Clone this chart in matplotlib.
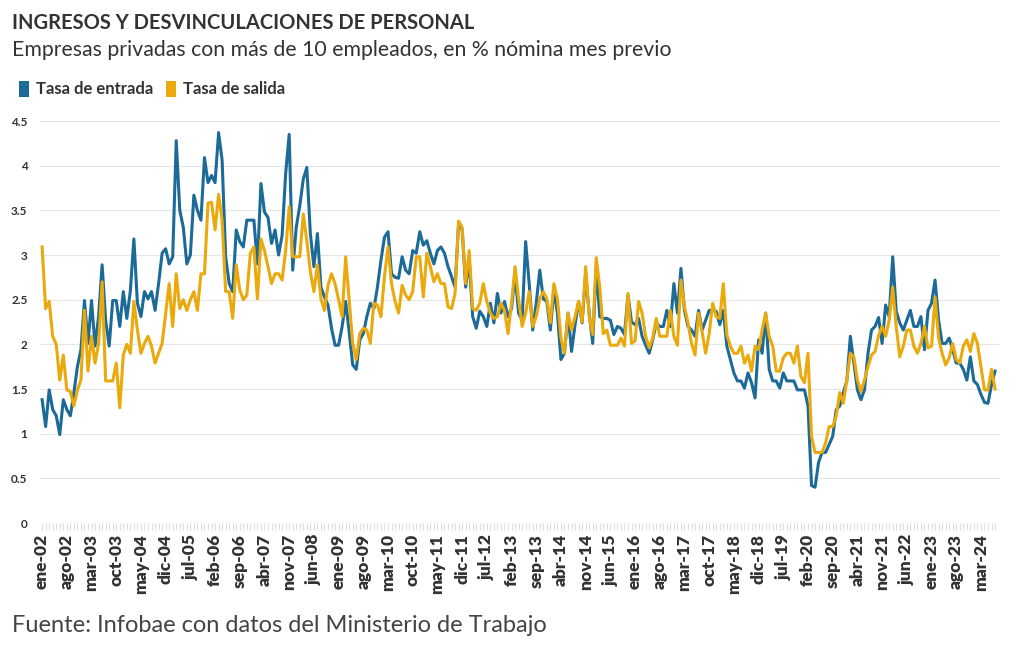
import numpy as np
import matplotlib.pyplot as plt
from matplotlib.patches import Patch

# monthly series from ene-02 onward, % of previous month payroll
entrada = [
    1.38, 1.08, 1.49, 1.27, 1.20, 0.99, 1.38, 1.27, 1.20, 1.46, 1.75, 1.94,
    2.49, 2.01, 2.49, 1.98, 2.31, 2.89, 2.27, 1.98, 2.49, 2.49, 2.20, 2.59,
    2.29, 2.60, 3.18, 2.46, 2.31, 2.59, 2.51, 2.59, 2.38, 2.68, 3.02, 3.07,
    2.90, 2.98, 4.28, 3.50, 3.31, 2.90, 3.00, 3.67, 3.50, 3.39, 4.09, 3.81,
    3.89, 3.81, 4.37, 4.06, 2.98, 2.68, 2.59, 3.28, 3.15, 3.09, 3.39, 3.39,
    3.39, 2.90, 3.80, 3.48, 3.42, 3.13, 3.28, 3.00, 3.22, 3.91, 4.35, 2.83,
    3.31, 3.55, 3.85, 3.98, 3.24, 2.87, 3.24, 2.64, 2.53, 2.44, 2.18, 1.99,
    1.99, 2.20, 2.48, 2.14, 1.77, 1.72, 2.05, 2.12, 2.31, 2.46, 2.40, 2.64,
    2.94, 3.20, 3.26, 2.79, 2.75, 2.74, 2.98, 2.83, 2.79, 3.05, 3.02, 3.26,
    3.11, 3.16, 3.02, 2.90, 3.05, 3.09, 3.02, 2.87, 2.76, 2.64, 3.35, 3.29,
    2.64, 2.94, 2.31, 2.18, 2.37, 2.31, 2.20, 2.46, 2.24, 2.57, 2.35, 2.48,
    2.31, 2.40, 2.79, 2.35, 2.27, 3.15, 2.68, 2.16, 2.46, 2.83, 2.51, 2.48,
    2.16, 2.61, 2.35, 1.83, 1.90, 2.35, 1.92, 2.22, 2.48, 2.24, 2.79, 2.35,
    2.01, 2.87, 2.31, 2.29, 2.29, 2.27, 2.11, 2.20, 2.18, 2.11, 2.55, 2.25,
    2.22, 2.29, 2.09, 1.99, 1.90, 2.05, 2.24, 2.20, 2.20, 2.38, 2.20, 2.68,
    2.35, 2.85, 2.38, 2.20, 2.16, 2.09, 2.38, 2.16, 2.27, 2.38, 2.38, 2.37,
    2.22, 2.38, 1.98, 1.83, 1.68, 1.59, 1.59, 1.51, 1.68, 1.57, 1.40, 2.05,
    1.90, 2.35, 1.72, 1.59, 1.59, 1.51, 1.68, 1.59, 1.59, 1.59, 1.49, 1.49,
    1.49, 1.31, 0.42, 0.40, 0.68, 0.79, 0.79, 0.88, 0.97, 1.27, 1.31, 1.46,
    1.59, 2.09, 1.79, 1.49, 1.38, 1.49, 1.90, 2.16, 2.20, 2.30, 2.01, 2.44,
    2.31, 2.98, 2.37, 2.24, 2.16, 2.27, 2.38, 2.20, 2.20, 2.31, 1.94, 2.38,
    2.46, 2.72, 2.27, 2.01, 2.01, 2.07, 1.94, 1.79, 1.79, 1.72, 1.60, 1.86,
    1.59, 1.55, 1.44, 1.35, 1.34, 1.55, 1.70,
]
salida = [
    3.09, 2.40, 2.48, 2.09, 2.00, 1.60, 1.88, 1.49, 1.47, 1.31, 1.49, 1.60,
    2.38, 1.70, 2.09, 1.79, 2.01, 2.70, 1.59, 1.59, 1.59, 1.79, 1.29, 1.88,
    2.00, 1.90, 2.48, 2.16, 1.90, 2.01, 2.09, 1.98, 1.79, 1.90, 2.01, 2.35,
    2.68, 2.20, 2.79, 2.40, 2.50, 2.38, 2.50, 2.59, 2.38, 2.79, 2.79, 3.58,
    3.59, 3.28, 3.68, 3.39, 2.59, 2.59, 2.29, 2.89, 2.61, 2.50, 2.55, 3.02,
    3.09, 2.51, 3.18, 3.05, 2.87, 2.68, 2.79, 2.79, 2.72, 3.05, 3.54, 2.98,
    2.98, 2.98, 3.46, 3.16, 2.81, 2.59, 2.89, 2.51, 2.38, 2.66, 2.79, 2.68,
    2.50, 2.31, 2.98, 2.50, 2.01, 1.83, 2.12, 2.18, 2.16, 2.01, 2.46, 2.44,
    2.31, 2.76, 3.09, 2.68, 2.48, 2.35, 2.66, 2.55, 2.50, 2.59, 2.98, 2.98,
    2.53, 3.02, 2.87, 2.70, 2.79, 2.68, 2.68, 2.42, 2.40, 2.57, 3.38, 3.31,
    2.68, 3.05, 2.40, 2.38, 2.46, 2.68, 2.48, 2.35, 2.29, 2.31, 2.46, 2.38,
    2.12, 2.46, 2.87, 2.51, 2.20, 2.35, 2.59, 2.20, 2.31, 2.51, 2.59, 2.51,
    2.24, 2.68, 2.51, 2.07, 1.90, 2.35, 2.16, 2.31, 2.48, 2.25, 2.87, 2.31,
    2.11, 2.97, 2.64, 2.12, 2.16, 1.99, 1.99, 1.99, 2.07, 1.98, 2.57, 2.01,
    2.04, 2.48, 2.35, 2.09, 1.96, 2.07, 2.29, 2.09, 2.09, 2.09, 2.38, 2.09,
    1.99, 2.72, 2.42, 2.24, 2.01, 1.88, 2.35, 2.14, 1.90, 2.12, 2.46, 2.31,
    2.29, 2.68, 2.11, 1.98, 1.90, 1.90, 1.98, 1.79, 1.88, 1.70, 1.98, 1.94,
    2.16, 2.35, 2.09, 1.98, 1.70, 1.70, 1.85, 1.90, 1.90, 1.79, 1.98, 1.64,
    1.57, 1.90, 0.97, 0.79, 0.79, 0.79, 0.90, 1.08, 1.08, 1.20, 1.46, 1.34,
    1.60, 1.90, 1.86, 1.60, 1.47, 1.60, 1.75, 1.88, 1.92, 2.10, 2.20, 2.09,
    2.27, 2.64, 2.20, 1.86, 1.98, 2.16, 2.16, 1.98, 1.90, 2.01, 2.20, 1.96,
    1.98, 2.53, 2.07, 1.90, 1.77, 1.85, 2.01, 1.83, 1.79, 1.98, 2.05, 1.92,
    2.12, 2.01, 1.75, 1.49, 1.49, 1.72, 1.50,
]
meses = ["ene", "feb", "mar", "abr", "may", "jun",
         "jul", "ago", "sep", "oct", "nov", "dic"]
anio_inicio = 2002

n = len(entrada)
x = np.arange(n)
labels = [f"{meses[i % 12]}-{(anio_inicio + i // 12) % 100:02d}" for i in x]

azul = "#1b6a97"
amarillo = "#eaa90c"
gris = "#333333"

plt.rcParams["font.family"] = ["Lato", "DejaVu Sans"]

fig = plt.figure(figsize=(10.2, 6.5), dpi=100)
ax = fig.add_axes([40 / 1020, 1 - 523 / 650, 960 / 1020, 402 / 650])

ax.plot(x, entrada, color=azul, lw=2.2, solid_joinstyle="round")
ax.plot(x, salida, color=amarillo, lw=2.2, solid_joinstyle="round")

ax.set_ylim(0, 4.5)
ax.set_xlim(-0.6, 271.4)
ax.set_yticks(np.arange(0, 4.51, 0.5))
ax.set_yticklabels(["0", "0.5", "1", "1.5", "2", "2.5", "3", "3.5", "4", "4.5"])
ax.grid(axis="y", color="#e6e6e6", lw=0.8)
ax.set_axisbelow(True)
for s in ax.spines.values():
    s.set_visible(False)

ax.set_xticks(x[::7])
ax.set_xticklabels(labels[::7], rotation=90, fontsize=12.5, fontweight="heavy", color=gris)
ax.set_xticks(x, minor=True)
ax.tick_params(axis="x", which="both", length=5, color="#dddddd", width=0.8, pad=3)
ax.tick_params(axis="y", length=0, pad=9, labelsize=8.5, labelcolor=gris)
for t in ax.get_yticklabels():
    t.set_fontweight("bold")

fig.text(12 / 1020, 1 - 23 / 650, "INGRESOS Y DESVINCULACIONES DE PERSONAL",
         fontsize=14.5, fontweight="bold", color=gris, va="center")
fig.text(12 / 1020, 1 - 50 / 650,
         "Empresas privadas con más de 10 empleados, en % nómina mes previo",
         fontsize=15.3, color=gris, va="center")

handles = [Patch(facecolor=azul, label="Tasa de entrada"),
           Patch(facecolor=amarillo, label="Tasa de salida")]
leg = fig.legend(handles=handles, loc="center left",
                 bbox_to_anchor=(4 / 1020, 1 - 89 / 650), ncol=2, frameon=False,
                 handlelength=0.6, handleheight=1.1, handletextpad=0.4,
                 columnspacing=0.8, prop={"weight": "bold", "size": 12})
for t in leg.get_texts():
    t.set_color(gris)

fig.text(12 / 1020, 1 - 625 / 650, "Fuente: Infobae con datos del Ministerio de Trabajo",
         fontsize=17, color="#444444", va="center")

fig.savefig("out.png", dpi=100, facecolor="white")
